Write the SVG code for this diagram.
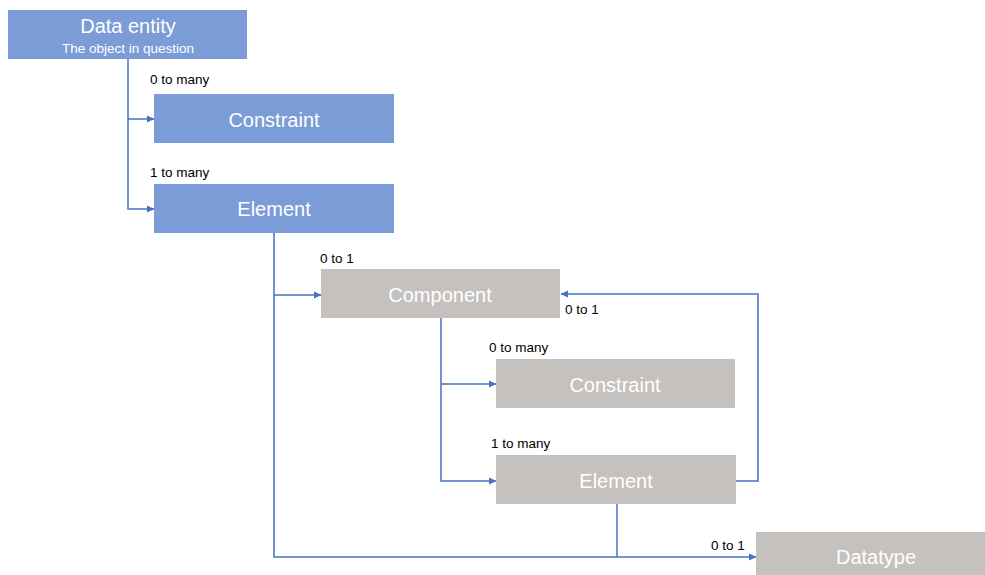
<svg xmlns="http://www.w3.org/2000/svg" width="985" height="575" viewBox="0 0 985 575">
<style>
.blue{fill:#7B9CD7;}
.gray{fill:#C4C1BF;}
.t{font-family:"Liberation Sans",Arial,sans-serif;fill:#ffffff;text-anchor:middle;font-size:20px;}
.s{font-family:"Liberation Sans",Arial,sans-serif;fill:#ffffff;text-anchor:middle;font-size:13.5px;}
.l{font-family:"Liberation Sans",Arial,sans-serif;fill:#000000;font-size:13.5px;}
.c{fill:none;stroke:#4472C4;stroke-width:1.5;}
</style>
<defs>
<marker id="a" markerWidth="8" markerHeight="8" refX="7" refY="4" orient="auto" markerUnits="userSpaceOnUse">
<path d="M0,0.5 L7.5,4 L0,7.5 Z" fill="#4472C4"/>
</marker>
</defs>
<rect width="985" height="575" fill="#ffffff"/>
<g id="connectors">
<polyline class="c" points="128,59 128,209 154,209" marker-end="url(#a)"/>
<polyline class="c" points="128,119 154,119" marker-end="url(#a)"/>
<polyline class="c" points="274,233 274,557 756,557" marker-end="url(#a)"/>
<polyline class="c" points="274,295 321,295" marker-end="url(#a)"/>
<polyline class="c" points="441,318 441,481 496,481" marker-end="url(#a)"/>
<polyline class="c" points="441,384 496,384" marker-end="url(#a)"/>
<polyline class="c" points="736,481 758,481 758,294 561,294" marker-end="url(#a)"/>
<polyline class="c" points="617,504 617,557"/>
</g>
<g id="labels">
<text class="l" x="150" y="84">0 to many</text>
<text class="l" x="150" y="177">1 to many</text>
<text class="l" x="320" y="263">0 to 1</text>
<text class="l" x="565" y="314">0 to 1</text>
<text class="l" x="489" y="352">0 to many</text>
<text class="l" x="491" y="448">1 to many</text>
<text class="l" x="711" y="550">0 to 1</text>
</g>
<g id="data-entity">
<rect class="blue" x="8" y="10" width="239" height="49"/>
<text class="t" x="128" y="33">Data entity</text>
<text class="s" x="128" y="53">The object in question</text>
</g>
<g id="constraint">
<rect class="blue" x="154" y="94" width="240" height="49"/>
<text class="t" x="274" y="127">Constraint</text>
</g>
<g id="element">
<rect class="blue" x="154" y="184" width="240" height="49"/>
<text class="t" x="274" y="216">Element</text>
</g>
<g id="component">
<rect class="gray" x="321" y="269" width="239" height="49"/>
<text class="t" x="440" y="302">Component</text>
</g>
<g id="constraint2">
<rect class="gray" x="496" y="359" width="239" height="49"/>
<text class="t" x="615" y="392">Constraint</text>
</g>
<g id="element2">
<rect class="gray" x="496" y="455" width="240" height="49"/>
<text class="t" x="616" y="488">Element</text>
</g>
<g id="datatype">
<rect class="gray" x="756" y="532" width="229" height="43"/>
<text class="t" x="876" y="564">Datatype</text>
</g>
</svg>
